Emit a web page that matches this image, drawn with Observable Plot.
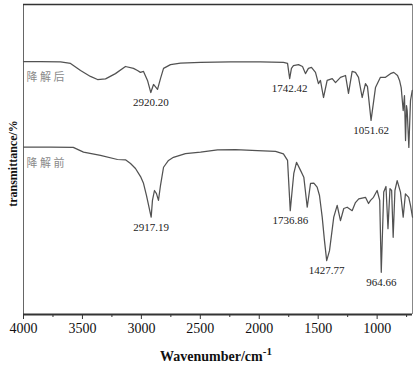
<!DOCTYPE html>
<html>
<head>
<meta charset="utf-8">
<script src="https://cdn.jsdelivr.net/npm/d3@7"></script>
<script src="https://cdn.jsdelivr.net/npm/@observablehq/plot@0.6"></script>
<style>
  html, body { margin: 0; padding: 0; background: #fff; }
  #chart svg { display: block; }
</style>
</head>
<body>
<div id="chart"></div>
<script>
// ---- Data ----
const seriesNames = ["降解后", "降解前"];

const afterWave = [4000, 3856, 3686, 3601, 3516, 3432, 3372, 3304, 3220, 3135, 3067, 3033, 3008, 2982, 2948, 2920, 2897, 2863, 2838, 2812, 2753, 2668, 2498, 2244, 1990, 1795, 1760, 1742, 1727, 1710, 1667, 1633, 1608, 1583, 1557, 1523, 1498, 1481, 1455, 1424, 1381, 1353, 1311, 1268, 1243, 1212, 1184, 1158, 1127, 1099, 1082, 1051.6, 1014, 972, 929, 887, 859, 827, 810, 796, 779, 768, 759, 751, 745, 731, 717, 702];
const afterT = [81.6, 81.6, 81.5, 81.0, 78.7, 76.8, 75.8, 76.0, 77.7, 80.0, 79.4, 78.7, 78.1, 78.4, 75.5, 71.6, 74.2, 72.6, 76.1, 79.4, 80.6, 81.1, 81.3, 81.5, 81.5, 81.3, 81.0, 76.1, 79.4, 80.3, 80.6, 80.0, 77.7, 79.4, 79.7, 78.1, 74.5, 75.5, 70.0, 75.5, 76.1, 74.8, 76.5, 77.1, 71.3, 78.4, 78.1, 76.5, 70.0, 74.5, 73.5, 62.6, 73.2, 76.5, 76.5, 77.7, 78.1, 77.1, 75.5, 73.2, 65.8, 70.6, 56.1, 67.4, 65.8, 53.9, 69.0, 72.3];

const beforeWave = [4000, 3771, 3578, 3491, 3347, 3203, 3135, 3092, 3050, 3007, 2982, 2957, 2917, 2906, 2889, 2872, 2855, 2838, 2812, 2770, 2728, 2626, 2498, 2354, 2202, 2015, 1862, 1795, 1760, 1737, 1721, 1707, 1684, 1650, 1622, 1593, 1565, 1537, 1509, 1489, 1466, 1447, 1428, 1404, 1368, 1339, 1311, 1283, 1254, 1212, 1184, 1156, 1099, 1073, 1056, 1031, 1000, 978, 965, 944, 925, 908, 891, 877, 864, 849, 830, 802, 779, 760, 732, 717, 700];
const beforeT = [54.0, 54.0, 53.9, 52.4, 51.3, 50.0, 49.9, 48.7, 47.1, 44.5, 42.3, 38.4, 31.4, 36.8, 40.0, 39.0, 36.8, 41.6, 47.5, 49.7, 50.7, 51.9, 52.4, 53.1, 53.2, 52.9, 52.6, 51.8, 49.7, 33.5, 40.0, 45.5, 49.1, 46.5, 44.3, 34.6, 42.3, 42.4, 41.1, 38.4, 31.4, 23.9, 17.4, 20.6, 31.4, 35.2, 30.3, 34.2, 34.6, 33.5, 36.1, 37.3, 37.8, 35.8, 36.8, 37.8, 40.0, 36.8, 13.6, 39.5, 41.3, 27.7, 40.6, 40.0, 24.9, 40.0, 43.2, 39.5, 31.4, 38.9, 37.8, 35.2, 31.4];

const afterPeaks = [2920.20, 1742.42, 1051.62];
const beforePeaks = [2917.19, 1736.86, 1427.77, 964.66];

const xTicks = [4000, 3500, 3000, 2500, 2000, 1500, 1000];
const xMinorTicks = [3750, 3250, 2750, 2250, 1750, 1250, 750];
const xDomain = [4000, 700];
const yDomain = [0, 100];
const xLabelMain = "Wavenumber/cm";
const xLabelSup = "-1";
const yLabel = "transmittance/%";

// ---- Build tables ----
const after = afterWave.map((w, i) => ({w, t: afterT[i]}));
const before = beforeWave.map((w, i) => ({w, t: beforeT[i]}));
function nearest(rows, w) {
  let best = rows[0];
  for (const r of rows) if (Math.abs(r.w - w) < Math.abs(best.w - w)) best = r;
  return best;
}
const peakRows = [
  ...afterPeaks.map(p => ({w: p, t: nearest(after, p).t, label: p.toFixed(2)})),
  ...beforePeaks.map(p => ({w: p, t: nearest(before, p).t, label: p.toFixed(2)}))
];
const nameRows = [
  {w: 4000, t: after[0].t, label: seriesNames[0]},
  {w: 4000, t: before[0].t, label: seriesNames[1]}
];

const serif = "'Liberation Serif', 'Times New Roman', serif";
const cjk = "'Noto Sans CJK SC', sans-serif";
const lineColor = "#525252";

const chart = Plot.plot({
  width: 417,
  height: 367,
  marginLeft: 23,
  marginRight: 5,
  marginTop: 4,
  marginBottom: 53,
  style: {background: "#fff", overflow: "visible"},
  x: {domain: xDomain, axis: null},
  y: {domain: yDomain, axis: null},
  marks: [
    Plot.ruleX([xDomain[0]], {stroke: "#666", strokeWidth: 1}),
    Plot.ruleX([xDomain[1]], {stroke: "#888", strokeWidth: 1}),
    Plot.ruleY([yDomain[1]], {stroke: "#333", strokeWidth: 1.6}),
    Plot.line(after, {x: "w", y: "t", stroke: lineColor, strokeWidth: 1.25}),
    Plot.line(before, {x: "w", y: "t", stroke: lineColor, strokeWidth: 1.25}),
    Plot.text(peakRows, {x: "w", y: "t", text: "label", dy: 10, fontSize: 11, fill: "#222", className: "serif"}),
    Plot.text(nameRows, {x: "w", y: "t", text: "label", dx: 3, dy: 16, textAnchor: "start", fontSize: 11, fill: "#8a8a8a", className: "cjk"}),
    Plot.axisX(xMinorTicks, {tickSize: 3, text: null, stroke: "#333", label: null}),
    Plot.axisX(xTicks, {tickSize: 5, tickPadding: 4, fontSize: 14, fill: "#111", stroke: "#333", label: null, tickFormat: d => String(d)}),
    Plot.ruleY([yDomain[0]], {stroke: "#333", strokeWidth: 2}),
    Plot.text([yLabel], {frameAnchor: "left", textAnchor: "middle", dx: -10, dy: 4, rotate: -90, fontSize: 12, fontWeight: "bold", fill: "#111"})
  ]
});

// x-axis title with superscript
const svg = d3.select(chart);
const t = svg.append("text")
  .attr("x", 216).attr("y", 361)
  .attr("text-anchor", "middle")
  .attr("font-weight", "bold")
  .attr("font-size", 14)
  .attr("fill", "#111");
t.append("tspan").text(xLabelMain);
t.append("tspan").attr("dy", -6).attr("font-size", 11).text(xLabelSup);

// fonts: serif everywhere, CJK for the series names
svg.selectAll("text").style("font-family", serif);
svg.selectAll("g").attr("font-family", null);
svg.selectAll("g.cjk text").style("font-family", cjk).style("letter-spacing", "2.5px");
svg.attr("font-family", serif);

document.getElementById("chart").appendChild(chart);
</script>
</body>
</html>
